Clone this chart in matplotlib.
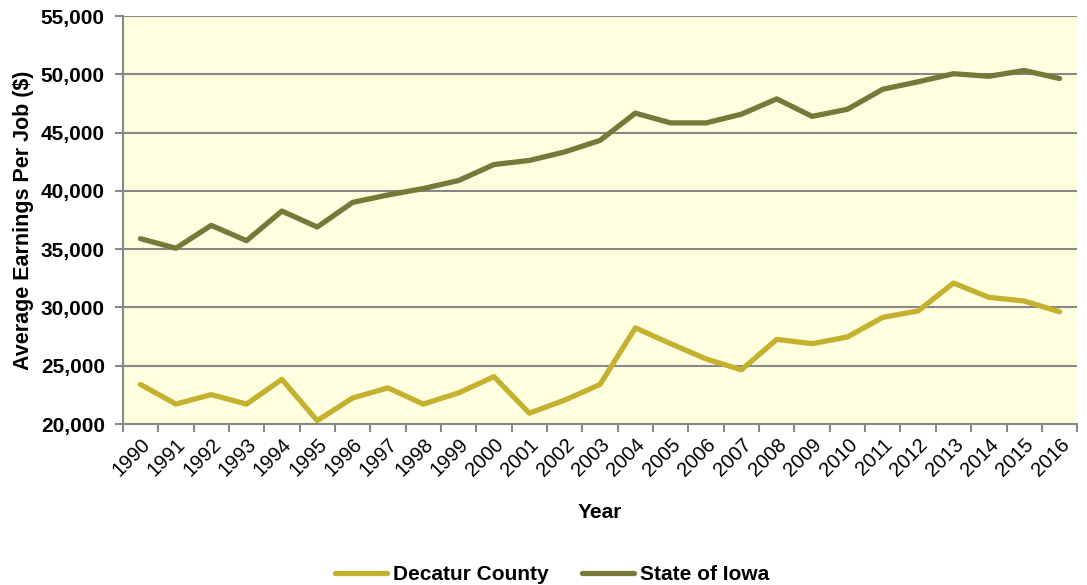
import numpy as np
import matplotlib
matplotlib.use("Agg")
import matplotlib.pyplot as plt
from matplotlib.ticker import FuncFormatter

years = list(range(1990, 2017))
decatur = [23390, 21710, 22520, 21710, 23830, 20290, 22230, 23100, 21710, 22670,
           24060, 20930, 22050, 23390, 28250, 26890, 25580, 24650, 27260, 26890,
           27470, 29150, 29700, 32090, 30870, 30550, 29630]
iowa = [35900, 35080, 37040, 35730, 38270, 36900, 39010, 39650, 40200, 40890,
        42260, 42610, 43340, 44330, 46670, 45830, 45830, 46580, 47890, 46390,
        47000, 48720, 49360, 50050, 49830, 50330, 49640]

plt.rcParams['font.family'] = ['Liberation Sans', 'DejaVu Sans']

fig = plt.figure(figsize=(10.87, 5.85), dpi=100)
ax = fig.add_axes([0.113, 0.2752, 0.878, 0.6974])
ax.set_facecolor('#FFFFE0')

x = np.arange(len(years))
ax.plot(x, decatur, color='#C4B130', linewidth=3.8, label='Decatur County', solid_capstyle='round')
ax.plot(x, iowa, color='#77793A', linewidth=3.8, label='State of Iowa', solid_capstyle='round')

ax.set_xlim(-0.5, len(years) - 0.5)
ax.set_ylim(20000, 55000)
ax.set_yticks(np.arange(20000, 55001, 5000))
ax.yaxis.set_major_formatter(FuncFormatter(lambda v, p: f'{int(v):,}'))
ax.grid(axis='y', color='#888888', linewidth=1.5)
ax.set_axisbelow(True)

ax.set_xticks(x)
ax.set_xticklabels([str(y) for y in years], rotation=45, ha='right',
                   rotation_mode='anchor', fontsize=14.5)
ax.set_xticks(np.arange(-0.5, len(years), 1), minor=True)
ax.tick_params(axis='x', which='major', length=0, pad=8)
ax.tick_params(axis='x', which='minor', length=6, color='#888888', width=1.5)
ax.tick_params(axis='y', length=6, color='#888888', width=1.5, pad=7)
for lab in ax.get_yticklabels():
    lab.set_fontweight('bold')
    lab.set_fontsize(15)

for side in ['top', 'right']:
    ax.spines[side].set_visible(False)
for side in ['left', 'bottom']:
    ax.spines[side].set_color('#888888')
    ax.spines[side].set_linewidth(1.5)

ax.set_xlabel('Year', fontsize=15, fontweight='bold', labelpad=16)
ax.set_ylabel('Average Earnings Per Job ($)', fontsize=15.5, fontweight='bold', labelpad=5)

fig.legend(loc='lower center', bbox_to_anchor=(0.508, -0.03), ncol=2, frameon=False,
           prop={'weight': 'bold', 'size': 15}, handlelength=2.5, handletextpad=0.3,
           columnspacing=1.6)

fig.savefig('out.png', dpi=100)
